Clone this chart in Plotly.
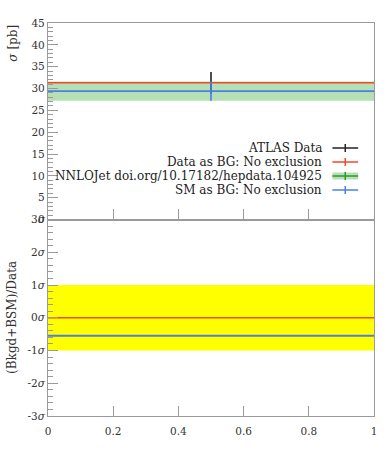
import plotly.graph_objects as go

# ---------------- data ----------------
x_edges = [0.0, 1.0]
x_point = [0.5]

data_value = [31.3]
data_err = [2.5]

data_bg_value = 31.3          # "Data as BG: No exclusion"
sm_value = 29.4               # "SM as BG: No exclusion"
nnlo_low = 27.2               # NNLOJet band
nnlo_high = 31.6

ratio_data_bg = 0.0           # in sigma
ratio_sm = -0.55
ratio_band = [-1.0, 1.0]

y_top_ticks = [0, 5, 10, 15, 20, 25, 30, 35, 40, 45]
x_ticks = [0, 0.2, 0.4, 0.6, 0.8, 1]
x_ticklabels = ["0", "0.2", "0.4", "0.6", "0.8", "1"]
sig_ticks = [-3, -2, -1, 0, 1, 2, 3]
sig_labels = ["-3<i>σ</i>", "-2<i>σ</i>", "-1<i>σ</i>", "0<i>σ</i>", "1<i>σ</i>", "2<i>σ</i>", "3<i>σ</i>"]

legend_labels = ["ATLAS Data", "Data as BG: No exclusion",
                 "NNLOJet doi.org/10.17182/hepdata.104925", "SM as BG: No exclusion"]

# ---------------- styles ----------------
RED = "#f04a26"
BLUE = "#4a7fe8"
GREEN_FILL = "rgba(60,170,60,0.38)"
GREEN_LINE = "#2e9a2e"
YELLOW = "#ffff00"
FONT = "DejaVu Serif"
AXC = "#9a9a9a"
TXT = "#333333"

fig = go.Figure()

# ---- top panel ----
fig.add_trace(go.Scatter(x=x_edges, y=[nnlo_low, nnlo_low], mode="lines",
                         line=dict(width=0), showlegend=False, hoverinfo="skip",
                         xaxis="x", yaxis="y"))
fig.add_trace(go.Scatter(x=x_edges, y=[nnlo_high, nnlo_high], mode="lines",
                         line=dict(width=0), fill="tonexty", fillcolor=GREEN_FILL,
                         showlegend=False, hoverinfo="skip", xaxis="x", yaxis="y"))
fig.add_trace(go.Scatter(x=x_point, y=data_value, mode="markers",
                         marker=dict(size=1, color="rgba(0,0,0,0)"),
                         error_y=dict(type="data", array=data_err, width=0,
                                      thickness=1.6, color="#222222"),
                         showlegend=False, xaxis="x", yaxis="y"))
fig.add_trace(go.Scatter(x=x_edges, y=[data_bg_value, data_bg_value], mode="lines",
                         line=dict(color=RED, width=1.6), showlegend=False,
                         xaxis="x", yaxis="y"))
fig.add_trace(go.Scatter(x=x_edges, y=[sm_value, sm_value], mode="lines",
                         line=dict(color=BLUE, width=1.8), showlegend=False,
                         xaxis="x", yaxis="y"))
fig.add_trace(go.Scatter(x=x_point, y=[sm_value], mode="markers",
                         marker=dict(size=1, color="rgba(0,0,0,0)"),
                         error_y=dict(type="data", symmetric=False,
                                      array=[nnlo_high - sm_value],
                                      arrayminus=[sm_value - nnlo_low],
                                      width=0, thickness=1.6, color=BLUE),
                         showlegend=False, xaxis="x", yaxis="y"))

# ---- bottom panel ----
fig.add_trace(go.Scatter(x=x_edges, y=[ratio_band[0]] * 2, mode="lines",
                         line=dict(width=0), showlegend=False, hoverinfo="skip",
                         xaxis="x2", yaxis="y2"))
fig.add_trace(go.Scatter(x=x_edges, y=[ratio_band[1]] * 2, mode="lines",
                         line=dict(width=0), fill="tonexty", fillcolor=YELLOW,
                         showlegend=False, hoverinfo="skip", xaxis="x2", yaxis="y2"))
fig.add_trace(go.Scatter(x=x_edges, y=[ratio_data_bg] * 2, mode="lines",
                         line=dict(color=RED, width=1.6), showlegend=False,
                         xaxis="x2", yaxis="y2"))
fig.add_trace(go.Scatter(x=x_edges, y=[ratio_sm] * 2, mode="lines",
                         line=dict(color=BLUE, width=1.8), showlegend=False,
                         xaxis="x2", yaxis="y2"))

axis_common = dict(showgrid=False, zeroline=False, showline=True, mirror=True,
                   linecolor=AXC, linewidth=1.2, ticks="inside", tickcolor=AXC,
                   tickfont=dict(family=FONT, size=10.5, color=TXT))

fig.update_layout(
    width=389, height=450,
    margin=dict(l=48, r=12, t=23, b=34),
    paper_bgcolor="white", plot_bgcolor="white",
    showlegend=False,
    xaxis=dict(axis_common, domain=[0, 1], range=[0, 1], anchor="y",
               tickvals=x_ticks, showticklabels=False, ticklen=10),
    yaxis=dict(axis_common, domain=[0.5, 1], range=[0, 45], anchor="x",
               tickvals=y_top_ticks, ticklen=10,
               minor=dict(dtick=1, ticklen=5, ticks="inside", tickcolor=AXC)),
    xaxis2=dict(axis_common, domain=[0, 1], range=[0, 1], anchor="y2",
                tickvals=x_ticks, ticktext=x_ticklabels, ticklen=10,
                ticklabelstandoff=5),
    yaxis2=dict(axis_common, domain=[0, 0.5], range=[-3, 3], anchor="x2",
                tickvals=sig_ticks, ticktext=sig_labels, ticklen=10,
                minor=dict(dtick=0.2, ticklen=5, ticks="inside", tickcolor=AXC)),
)

# axis titles
fig.add_annotation(text="<i>σ</i> [pb]", xref="paper", yref="paper",
                   x=-0.11, y=1.0, xanchor="center", yanchor="top", textangle=-90,
                   showarrow=False, font=dict(family=FONT, size=12, color=TXT))
fig.add_annotation(text="(Bkgd+BSM)/Data", xref="paper", yref="paper",
                   x=-0.11, y=0.25, xanchor="center", yanchor="middle", textangle=-90,
                   showarrow=False, font=dict(family=FONT, size=12, color=TXT))

# custom legend (text right-aligned, symbol to the right)
H = 393.0
W = 329.0
def py(p):
    return (416 - p) / H
def px(p):
    return (p - 48) / W

rows = [148, 162, 176, 190]
colors = ["#222222", RED, GREEN_LINE, BLUE]
for lab, r, c in zip(legend_labels, rows, colors):
    fig.add_annotation(text=lab, xref="paper", yref="paper", x=px(327), y=py(r),
                       xanchor="right", yanchor="middle", showarrow=False,
                       font=dict(family=FONT, size=12, color="#222222"))
    if c == GREEN_LINE:
        fig.add_shape(type="rect", xref="paper", yref="paper",
                      x0=px(335), x1=px(361), y0=py(r + 3.5), y1=py(r - 3.5),
                      fillcolor=GREEN_FILL, line=dict(width=0))
    fig.add_shape(type="line", xref="paper", yref="paper",
                  x0=px(335), x1=px(361), y0=py(r), y1=py(r),
                  line=dict(color=c, width=1.5))
    fig.add_shape(type="line", xref="paper", yref="paper",
                  x0=px(348), x1=px(348), y0=py(r - 4), y1=py(r + 4),
                  line=dict(color=c, width=1.5))

fig.write_html("out.html", config={"displayModeBar": False},
               post_script="document.body.style.margin='0';document.body.style.overflow='hidden';")
